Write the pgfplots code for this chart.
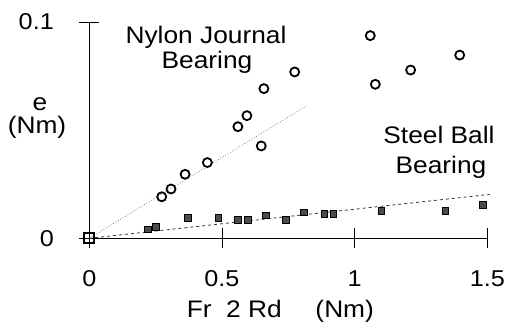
\documentclass[border=0pt]{standalone}
\usepackage{fontspec}
\setmainfont{Liberation Sans}[FakeStretch=1.1]
\usepackage{pgfplots}
\pgfplotsset{compat=1.18}
\begin{document}
\begin{tikzpicture}
\path[use as bounding box] (-89.3bp,-86.7bp) rectangle (416.7bp,238.3bp);
\begin{axis}[
  at={(0,0)}, anchor=south west,
  scale only axis, width=398bp, height=216.3bp,
  xmin=0, xmax=1.5, ymin=0, ymax=0.1,
  axis lines*=left, axis line style={black, line width=0.9bp},
  xtick={0,0.5,1,1.5}, ytick={0,0.1},
  tick align=center, major tick length=20bp,
  tick style={black, line width=0.9bp},
  /pgf/number format/assume math mode=true,
  tick label style={font=\fontsize{23}{26}\selectfont},
  xticklabel style={yshift=-19bp},
  yticklabel style={xshift=-22bp},
  clip=false,
]
\addplot[gray, dotted, line width=0.8bp] coordinates {(0,0) (0.818,0.0612)};
\addplot[black!80, dashed, line width=0.8bp] coordinates {(0,0) (1.509,0.0203)};
\addplot[only marks, mark=o, mark size=4.5bp, mark options={line width=1.8bp, black}] coordinates {
(0.273,0.0192)(0.308,0.0228)(0.361,0.0296)(0.445,0.0350)(0.560,0.0516)(0.594,0.0567)(0.648,0.0427)(0.658,0.0692)(0.774,0.0769)(1.059,0.0937)(1.078,0.0712)(1.211,0.0778)(1.396,0.0847)};
\addplot[only marks, mark=square*, mark size=3.3bp, mark options={draw=black, fill=black!70, line width=0.6bp}] coordinates {
(0.220,0.0042)(0.251,0.0052)(0.371,0.0095)(0.486,0.0095)(0.560,0.0085)(0.597,0.0085)(0.665,0.0106)(0.741,0.0085)(0.808,0.0120)(0.885,0.0112)(0.920,0.0112)(1.100,0.0126)(1.341,0.0126)(1.483,0.0154)};
\addplot[only marks, mark=square, mark size=5bp, mark options={line width=1.8bp, black, fill=white}] coordinates {(0,0)};
\end{axis}
\begin{scope}[every node/.style={font=\fontsize{24}{26}\selectfont, anchor=base, inner sep=0pt}]
\node at (116.7bp,195bp) {Nylon Journal};
\node at (117.7bp,170bp) {Bearing};
\node at (349.7bp,95bp) {Steel Ball};
\node at (351.7bp,65bp) {Bearing};
\node at (-49.3bp,127.8bp) {e};
\node at (-52.3bp,104.3bp) {(Nm)};
\node at (145bp,-79bp) {Fr~~2 Rd};
\node at (255.4bp,-79bp) {(Nm)};
\end{scope}
\end{tikzpicture}
\end{document}
